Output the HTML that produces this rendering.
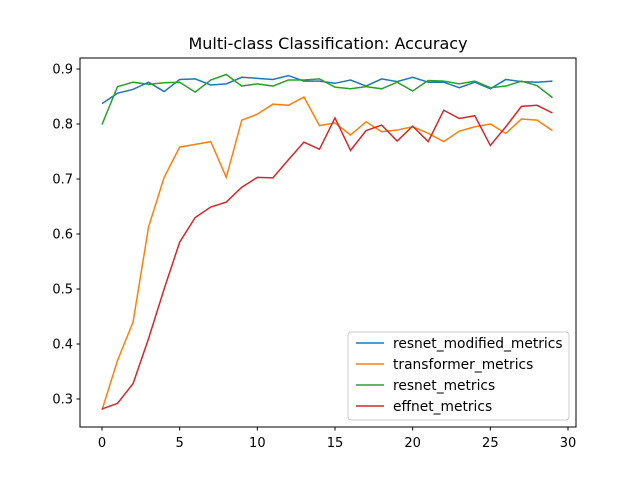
<!DOCTYPE html>
<html><head><meta charset="utf-8"><style>
body{margin:0;background:#fff}
svg text{font-family:"DejaVu Sans","Liberation Sans",sans-serif;fill:#000}
</style></head><body>
<svg width="640" height="480" id="c">
<rect width="640" height="480" fill="#fff"/>
<text x="328" y="49" font-size="16" text-anchor="middle">Multi-class Classification: Accuracy</text>
<g id="plot"></g>
<rect x="80" y="58" width="496" height="369" fill="none" stroke="#000" stroke-width="1"/>
<g>
<rect x="348" y="332" width="221" height="88" rx="3" fill="#fff" fill-opacity="0.8" stroke="#ccc"/>
<g id="leg"></g>
</g>
</svg>
<script>
const epochs=[...Array(30).keys()];
const resnetModified=[.837,.856,.863,.876,.859,.881,.882,.871,.873,.885,.883,.881,.888,.878,.878,.874,.880,.869,.882,.877,.885,.876,.876,.866,.876,.864,.881,.877,.876,.878];
const transformer=[.28,.37,.44,.613,.703,.758,.763,.768,.703,.807,.818,.836,.834,.849,.797,.802,.780,.804,.786,.789,.795,.783,.768,.787,.795,.800,.783,.809,.807,.788];
const resnet=[.799,.868,.876,.872,.875,.876,.858,.880,.890,.869,.873,.869,.880,.880,.882,.867,.864,.868,.864,.876,.860,.879,.878,.873,.878,.866,.869,.878,.870,.848];
const effnet=[.282,.292,.328,.410,.500,.585,.630,.649,.658,.685,.703,.702,.735,.767,.754,.811,.752,.788,.798,.769,.796,.768,.825,.810,.815,.761,.795,.832,.834,.820];
const xTicks=[0,5,10,15,20,25,30];
const yTicks=[0.3,0.4,0.5,0.6,0.7,0.8,0.9];
const names=["resnet_modified_metrics","transformer_metrics","resnet_metrics","effnet_metrics"];
const colors=["#1f77b4","#ff7f0e","#2ca02c","#d62728"];
const series=[resnetModified,transformer,resnet,effnet];
const NS="http://www.w3.org/2000/svg";
const X=v=>102+v*(568-102)/30;
const Y=v=>399-(v-0.3)*(330/0.6);
const plot=document.getElementById('plot');
function mk(t,a,p){const e=document.createElementNS(NS,t);for(const k in a)e.setAttribute(k,a[k]);(p||plot).appendChild(e);return e;}
xTicks.forEach(t=>{
 const l=mk('line',{x1:X(t),x2:X(t),y1:427,y2:430.5,stroke:'#000'});
 
 
 const tx=mk('text',{x:X(t),y:447,'font-size':13,'text-anchor':'middle'});tx.textContent=t;
 
 
});
yTicks.forEach(t=>{
 const l=mk('line',{x1:76.5,x2:80,y1:Y(t),y2:Y(t),stroke:'#000'});
 
 
 const tx=mk('text',{x:73,y:Y(t)+4.5,'font-size':13,'text-anchor':'end'});tx.textContent=t.toFixed(1);
 
 
});
series.forEach((s,i)=>{
 const p=mk('polyline',{points:s.map((v,j)=>X(epochs[j])+','+Y(v)).join(' '),fill:'none',stroke:colors[i],'stroke-width':1.5});
 
 
 const leg=document.getElementById('leg');
 const y=343+i*21;
 const l=mk('line',{x1:356,x2:384,y1:y,y2:y,stroke:colors[i],'stroke-width':1.5},leg);
 
 
 const tx=mk('text',{x:393,y:y+5,'font-size':13.8},leg);tx.textContent=names[i];
 
 
});
</script>
</body></html>
